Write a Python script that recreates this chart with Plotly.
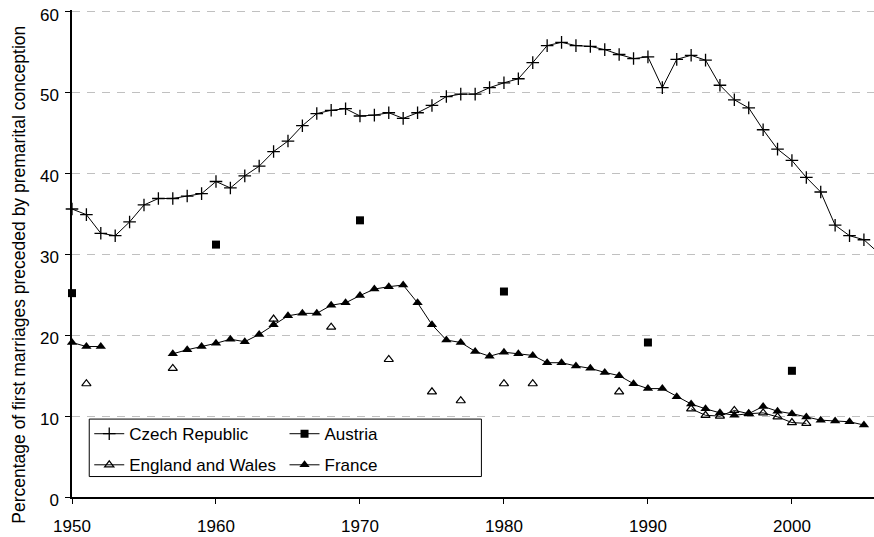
"""
Premarital conceptions chart
Share of first marriages preceded by premarital conception, 1950-2006
"""

import plotly.graph_objects as go

# Data
YEARS = list(range(1950, 2007))

CZECH = [
    35.6, 34.9, 32.6, 32.3, 34.0, 36.1, 36.9, 36.9, 37.2, 37.5,   # 1950-59
    39.0, 38.2, 39.7, 40.9, 42.7, 44.0, 45.9, 47.4, 47.8, 48.0,   # 1960-69
    47.1, 47.2, 47.5, 46.8, 47.5, 48.4, 49.5, 49.8, 49.8, 50.6,   # 1970-79
    51.2, 51.7, 53.7, 55.8, 56.2, 55.8, 55.7, 55.3, 54.7, 54.2,   # 1980-89
    54.4, 50.6, 54.1, 54.6, 54.0, 50.9, 49.1, 48.1, 45.4, 43.0,   # 1990-99
    41.6, 39.5, 37.7, 33.6, 32.3, 31.8, 30.2,                     # 2000-06
]

AUSTRIA_YEARS = [1950, 1960, 1970, 1980, 1990, 2000]
AUSTRIA = [25.2, 31.2, 34.2, 25.4, 19.1, 15.6]

ENGLAND_YEARS = [1951, 1957, 1964, 1968, 1972, 1975, 1977, 1980, 1982, 1988,
                 1993, 1994, 1995, 1996, 1997, 1998, 1999, 2000, 2001]
ENGLAND = [14.0, 15.9, 22.0, 21.0, 17.0, 13.0, 11.9, 14.0, 14.0, 13.0,
           10.9, 10.1, 10.0, 10.7, 10.3, 10.4, 9.9, 9.2, 9.1]

FRANCE_YEARS = [1950, 1951, 1952] + list(range(1957, 2006))
FRANCE = [
    19.1, 18.6, 18.6,                                             # 1950-52
    17.7, 18.2, 18.6,                                             # 1957-59
    19.0, 19.5, 19.2, 20.1, 21.3, 22.4, 22.7, 22.7, 23.7, 24.0,   # 1960-69
    24.9, 25.7, 26.0, 26.2, 24.0, 21.3, 19.4, 19.1, 18.0, 17.4,   # 1970-79
    17.9, 17.7, 17.5, 16.6, 16.6, 16.2, 15.9, 15.4, 15.0, 14.0,   # 1980-89
    13.4, 13.4, 12.4, 11.5, 10.9, 10.4, 10.1, 10.3, 11.2, 10.6,   # 1990-99
    10.3, 9.9, 9.5, 9.4, 9.3, 8.9,                                # 2000-05
]

X_TICKS = [1950, 1960, 1970, 1980, 1990, 2000]
Y_TICKS = [0, 10, 20, 30, 40, 50, 60]
Y_TITLE = 'Percentage of first marriages preceded by premarital conception'

FONT = 'Liberation Sans, Arial, sans-serif'
GRID = '#c0c0c0'

# drop the default 8px body margin so the figure fills the window exactly
NO_BODY_MARGIN = "document.body.style.margin = '0';"


def on_years(years, values):
    """Spread sparse values over the full year list, leaving gaps as None"""
    lookup = dict(zip(years, values))
    return [lookup.get(y) for y in YEARS]


fig = go.Figure()

fig.add_trace(go.Scatter(
    x=YEARS, y=CZECH, name='Czech Republic',
    legend='legend', legendgroup='cz',
    mode='lines+markers', cliponaxis=False,
    line=dict(color='black', width=1),
    marker=dict(symbol='cross-thin', size=9, color='black',
                line=dict(color='black', width=1.3))
))
fig.add_trace(go.Scatter(
    x=YEARS, y=on_years(AUSTRIA_YEARS, AUSTRIA), name='Austria',
    legend='legend2', legendgroup='at',
    mode='lines+markers', cliponaxis=False,
    line=dict(color='black', width=1),
    marker=dict(symbol='square', size=8, color='black')
))
fig.add_trace(go.Scatter(
    x=YEARS, y=on_years(ENGLAND_YEARS, ENGLAND), name='England and Wales',
    legend='legend', legendgroup='ew',
    mode='lines+markers', cliponaxis=False,
    line=dict(color='black', width=1),
    marker=dict(symbol='triangle-up-open', size=8, color='black',
                line=dict(color='black', width=1.2))
))
fig.add_trace(go.Scatter(
    x=YEARS, y=on_years(FRANCE_YEARS, FRANCE), name='France',
    legend='legend2', legendgroup='fr',
    mode='lines+markers', cliponaxis=False,
    line=dict(color='black', width=1),
    marker=dict(symbol='triangle-up', size=9, color='black')
))

legend_style = dict(
    bgcolor='rgba(0,0,0,0)', borderwidth=0, orientation='v',
    xanchor='left', yanchor='top', tracegroupgap=6,
    font=dict(family=FONT, size=17, color='black')
)

fig.update_layout(
    width=874, height=537,
    margin=dict(l=71.7, r=0, t=10.4, b=39.7),
    plot_bgcolor='white', paper_bgcolor='white',
    font=dict(family=FONT, size=17, color='black'),
    showlegend=True,
    legend=dict(x=0.0215, y=0.166, **legend_style),
    legend2=dict(x=0.265, y=0.166, **legend_style),
    xaxis=dict(
        range=[1950, 2005.7], tickvals=X_TICKS, automargin=False,
        showgrid=False, zeroline=False,
        showline=True, linecolor='black', linewidth=1.5,
        ticks='outside', ticklen=5, tickcolor='black', tickwidth=1,
        ticklabelstandoff=8,
        tickfont=dict(size=17)
    ),
    yaxis=dict(
        range=[0, 60.2], tickvals=Y_TICKS, automargin=False,
        showgrid=True, gridcolor=GRID, griddash='8px,7px', gridwidth=1,
        zeroline=False,
        showline=True, linecolor='black', linewidth=1.5,
        ticks='outside', ticklen=5, tickcolor='black', tickwidth=1,
        ticklabeloverflow='allow', ticklabelshift=3, ticklabelstandoff=3,
        tickfont=dict(size=17)
    ),
    annotations=[dict(
        text=Y_TITLE, textangle=-90, showarrow=False,
        xref='paper', yref='paper', x=0, y=0.457,
        xanchor='center', yanchor='middle', xshift=-52.7,
        font=dict(family=FONT, size=17.5, color='black')
    )],
    shapes=[dict(
        type='rect', xref='paper', yref='paper', layer='above',
        x0=0.0215, x1=0.5105, y0=0.042, y1=0.160,
        line=dict(color='black', width=1), fillcolor='white'
    )]
)

fig.write_html("out.html", post_script=NO_BODY_MARGIN,
               config={'displayModeBar': False})
